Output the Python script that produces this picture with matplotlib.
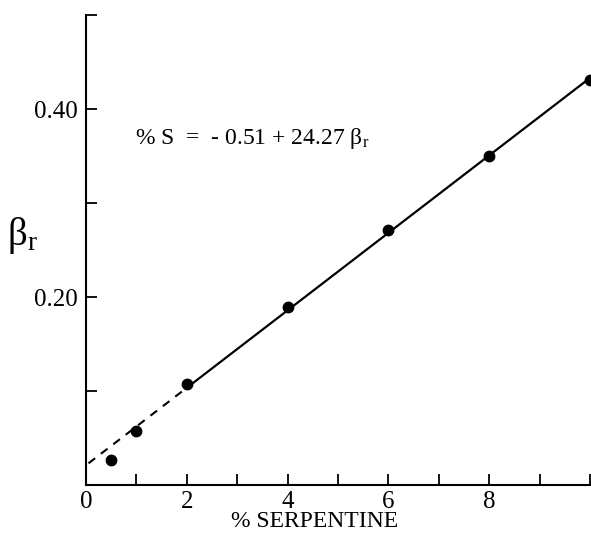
import numpy as np
import matplotlib
matplotlib.use('Agg')
import matplotlib.pyplot as plt

plt.rcParams['font.family'] = ['Liberation Serif', 'DejaVu Serif']
plt.rcParams['mathtext.fontset'] = 'custom'
plt.rcParams['mathtext.rm'] = 'Liberation Serif'
plt.rcParams['mathtext.it'] = 'Liberation Serif'
plt.rcParams['mathtext.default'] = 'rm'

# measured points
serpentine = [0.5, 1, 2, 4, 6, 8, 10]
beta_r = [0.027, 0.057, 0.107, 0.189, 0.271, 0.350, 0.431]

# fit: %S = a + b * beta_r
fit_a = -0.51
fit_b = 24.27
dash_range = [0.05, 2]
solid_range = [2, 10]

x_ticks = [0, 1, 2, 3, 4, 5, 6, 7, 8, 9, 10]
x_labels = ['0', '', '2', '', '4', '', '6', '', '8', '', '']
y_ticks = [0.1, 0.2, 0.3, 0.4, 0.5]
y_labels = ['', '0.20', '', '0.40', '']


def fit_beta(s):
    return (np.asarray(s) - fit_a) / fit_b


fig = plt.figure(figsize=(5.91, 5.36), dpi=100)
ax = fig.add_axes([86 / 591, 1 - 485 / 536, 504 / 591, 470 / 536])

ax.plot(dash_range, fit_beta(dash_range), color='black', lw=1.5, linestyle=(0, (4, 3.5)))
ax.plot(solid_range, fit_beta(solid_range), color='black', lw=1.6)
ax.plot(serpentine, beta_r, 'o', color='black', markersize=7.5, clip_on=False, zorder=5)

ax.set_xlim(0, 10)
ax.set_ylim(0, 0.5)
ax.set_xticks(x_ticks)
ax.set_xticklabels(x_labels)
ax.set_yticks(y_ticks)
ax.set_yticklabels(y_labels)
ax.tick_params(direction='in', length=8, width=1.3, labelsize=18)
ax.tick_params(axis='x', pad=4)
ax.tick_params(axis='y', pad=6)

for side in ['top', 'right']:
    ax.spines[side].set_visible(False)
for side in ['left', 'bottom']:
    ax.spines[side].set_linewidth(1.5)

ax.text(4.54, -0.039, '% SERPENTINE', ha='center', va='center', fontsize=17)
ax.text(-1.27, 0.265, r'$\beta_{\mathrm{r}}$', ha='center', va='center', fontsize=28)
ax.text(0.97, 0.369, r'% S  =  - 0.51 + 24.27 $\beta_{\mathrm{r}}$', ha='left', va='center', fontsize=17)

fig.savefig('out.png', dpi=100)
